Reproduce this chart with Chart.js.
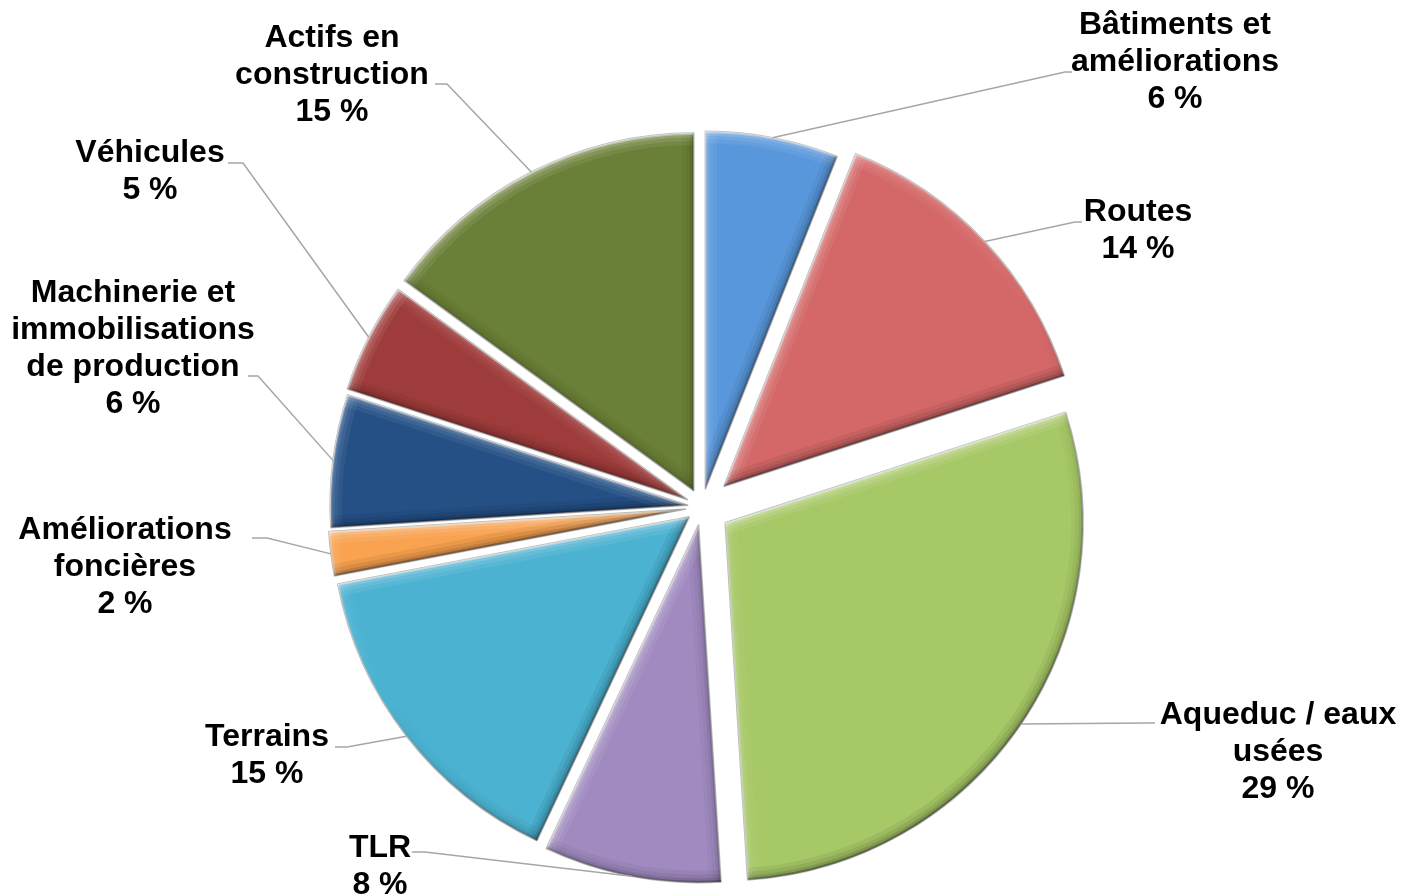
<!DOCTYPE html>
<html lang="fr">
<head>
<meta charset="utf-8">
<title>Répartition des immobilisations</title>
<script src="https://cdn.jsdelivr.net/npm/chart.js@4/dist/chart.umd.min.js"></script>
<style>
  html, body { margin: 0; padding: 0; background: #fff; }
  canvas { display: block; }
</style>
</head>
<body>
<canvas id="pie" width="1403" height="896"></canvas>
<script>
// data
const CATEGORIES = [
  ['Bâtiments et', 'améliorations'],
  ['Routes'],
  ['Aqueduc / eaux', 'usées'],
  ['TLR'],
  ['Terrains'],
  ['Améliorations', 'foncières'],
  ['Machinerie et', 'immobilisations', 'de production'],
  ['Véhicules'],
  ['Actifs en', 'construction']
];
const VALUES = [6, 14, 29, 8, 15, 2, 6, 5, 15];
const COLORS = ['#5997dc', '#d46868', '#a6c866', '#a08ac0', '#4bb2d1', '#f9a24f', '#255086', '#9e3c3b', '#6a7f37'];

// how far each slice is pulled out (px)
const EXPLODE = [18, 30, 28, 18, 16, 16, 14, 16, 18];

// label layout: text centre x, first line y
const LABEL_POS = [[1175, 25], [1138, 212], [1278, 715], [380, 848], [267, 737], [125, 530], [133, 293], [150, 153], [332, 38]];
// leader lines: elbow x, elbow y, end x (horizontal stub)
const LEADERS = [[1065, 72, 1072], [1075, 222, 1082], [1145, 723, 1155], [425, 852, 412], [347, 747, 335],
                 [267, 538, 252], [258, 376, 248], [243, 163, 228], [447, 84, 435]];

const LINE_H = 37;
const LIGHT = [-0.5, -0.866]; // light from the top left

function tone(s, a) {
  return s > 0 ? 'rgba(255,255,255,' + (a * s).toFixed(3) + ')' : 'rgba(0,0,0,' + (-a * s * 0.8).toFixed(3) + ')';
}

// soft bevel drawn inside each slice
function drawBevel(ctx, x, y, r, a0, a1) {
  ctx.save();
  ctx.beginPath();
  ctx.moveTo(x, y);
  ctx.arc(x, y, r, a0, a1);
  ctx.closePath();
  ctx.clip();
  ctx.lineCap = 'butt';
  const bands = [[24, 0.08], [16, 0.1], [9, 0.15], [4, 0.38]];
  const span = a1 - a0;
  bands.forEach(([w, a]) => {
    ctx.lineWidth = w;
    // start edge
    let s = Math.sin(a0) * LIGHT[0] - Math.cos(a0) * LIGHT[1];
    ctx.strokeStyle = tone(s, a);
    ctx.beginPath();
    ctx.moveTo(x, y);
    ctx.lineTo(x + Math.cos(a0) * r, y + Math.sin(a0) * r);
    ctx.stroke();
    // end edge
    s = -Math.sin(a1) * LIGHT[0] + Math.cos(a1) * LIGHT[1];
    ctx.strokeStyle = tone(s, a);
    ctx.beginPath();
    ctx.moveTo(x, y);
    ctx.lineTo(x + Math.cos(a1) * r, y + Math.sin(a1) * r);
    ctx.stroke();
    // outer arc, shaded by angle
    const g = ctx.createConicGradient(a0, x, y);
    const steps = Math.max(2, Math.ceil(span / 0.05));
    for (let k = 0; k <= steps; k++) {
      const t = a0 + span * k / steps;
      s = Math.cos(t) * LIGHT[0] + Math.sin(t) * LIGHT[1];
      g.addColorStop(Math.min(1, (span * k / steps) / (Math.PI * 2)), tone(s, a));
    }
    ctx.strokeStyle = g;
    ctx.beginPath();
    ctx.arc(x, y, r, a0, a1);
    ctx.stroke();
  });
  ctx.restore();
}

// draw every slice pulled out from the centre, with the bevel
const explodePlugin = {
  id: 'explode',
  beforeDatasetDraw(chart, args) {
    const ctx = chart.ctx;
    args.meta.data.forEach((arc, i) => {
      const p = arc.getProps(['x', 'y', 'startAngle', 'endAngle', 'outerRadius']);
      const mid = (p.startAngle + p.endAngle) / 2;
      ctx.save();
      ctx.translate(Math.cos(mid) * EXPLODE[i], Math.sin(mid) * EXPLODE[i]);
      arc.draw(ctx);
      drawBevel(ctx, p.x, p.y, p.outerRadius, p.startAngle, p.endAngle);
      ctx.restore();
    });
    return false;
  }
};

// labels with leader lines
const labelPlugin = {
  id: 'outLabels',
  afterDatasetsDraw(chart) {
    const ctx = chart.ctx;
    const arcs = chart.getDatasetMeta(0).data;
    ctx.save();
    arcs.forEach((arc, i) => {
      const p = arc.getProps(['x', 'y', 'startAngle', 'endAngle', 'outerRadius']);
      const mid = (p.startAngle + p.endAngle) / 2;
      const R = p.outerRadius + EXPLODE[i];
      const sx = p.x + Math.cos(mid) * R;
      const sy = p.y + Math.sin(mid) * R;
      const [ex, ey, endX] = LEADERS[i];
      ctx.strokeStyle = '#a6a6a6';
      ctx.lineWidth = 1.5;
      ctx.beginPath();
      ctx.moveTo(sx, sy);
      ctx.lineTo(ex, ey);
      ctx.lineTo(endX, ey);
      ctx.stroke();

      const lines = CATEGORIES[i].concat([VALUES[i] + ' %']);
      const [lx, ly] = LABEL_POS[i];
      ctx.fillStyle = '#000';
      ctx.font = 'bold 32px "Liberation Sans", Arial, sans-serif';
      ctx.textAlign = 'center';
      ctx.textBaseline = 'middle';
      lines.forEach((t, k) => ctx.fillText(t, lx, ly + k * LINE_H));
    });
    ctx.restore();
  }
};

new Chart(document.getElementById('pie'), {
  type: 'pie',
  data: {
    labels: CATEGORIES.map(l => l.join(' ')),
    datasets: [{
      data: VALUES,
      backgroundColor: COLORS,
      borderColor: '#bdbdbd',
      borderWidth: 1.5,
      radius: 358
    }]
  },
  options: {
    responsive: false,
    animation: false,
    layout: { padding: { top: 132, bottom: 14, left: 300, right: 299 } },
    plugins: { legend: { display: false }, tooltip: { enabled: false } }
  },
  plugins: [explodePlugin, labelPlugin]
});
</script>
</body>
</html>
